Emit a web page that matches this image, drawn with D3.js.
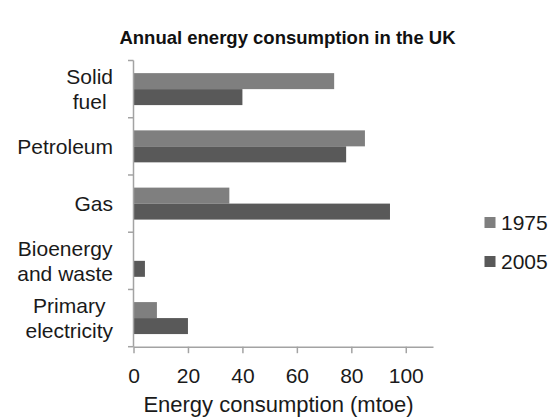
<!DOCTYPE html>
<html>
<head>
<meta charset="utf-8">
<script src="https://cdn.jsdelivr.net/npm/d3@7"></script>
<style>
  html, body { margin: 0; padding: 0; background: #fff; }
  svg { display: block; font-family: "Liberation Sans", Arial, Helvetica, sans-serif; }
</style>
</head>
<body>
<svg id="chart" width="557" height="420"></svg>
<script>
// Energy sources, one label line per array entry
const categories = [
  ["Solid", "fuel"],
  ["Petroleum"],
  ["Gas"],
  ["Bioenergy", "and waste"],
  ["Primary", "electricity"]
];
const years = ["1975", "2005"];
// Consumption in million tonnes of oil equivalent
const values1975 = [73.7, 85, 35.2, 0, 8.6];
const values2005 = [40, 78.1, 94.2, 4.2, 20];
const xTicks = [0, 20, 40, 60, 80, 100];
const colors = { "1975": "#7f7f7f", "2005": "#595959" };

const title = "Annual energy consumption in the UK";
const xTitle = "Energy consumption (mtoe)";

const svg = d3.select("#chart");
const keys = categories.map(c => c.join(" "));
const rows = keys.map((k, i) => ({ key: k, lines: categories[i], "1975": values1975[i], "2005": values2005[i] }));

const x = d3.scaleLinear().domain([0, 110]).range([133.5, 433]);
const y = d3.scaleBand().domain(keys).range([60.5, 346.7]).padding(0);
const yInner = d3.scaleBand().domain(years).range([0, y.bandwidth()]).paddingOuter(0.79).paddingInner(0);

// Title
svg.append("text")
  .attr("x", 287.5).attr("y", 44)
  .attr("text-anchor", "middle")
  .style("font-weight", "bold").style("font-size", "18.5px").attr("fill", "#111")
  .text(title);

// Bars
const groups = svg.append("g").selectAll("g").data(rows).join("g")
  .attr("transform", d => `translate(0,${y(d.key)})`);
groups.selectAll("rect")
  .data(d => years.map(yr => ({ yr, v: d[yr] })))
  .join("rect")
  .attr("x", x(0))
  .attr("y", d => yInner(d.yr))
  .attr("width", d => x(d.v) - x(0))
  .attr("height", yInner.bandwidth())
  .attr("fill", d => colors[d.yr]);

const axisColor = "#a3a3a3";

// X axis
const xAxis = svg.append("g")
  .attr("transform", `translate(0,${y.range()[1]})`)
  .call(d3.axisBottom(x).tickValues(xTicks).tickSize(6.5).tickSizeOuter(0).tickPadding(8));
xAxis.select(".domain").attr("stroke", axisColor).attr("stroke-width", 1.5);
xAxis.selectAll(".tick line").attr("stroke", axisColor).attr("stroke-width", 1.5);
xAxis.selectAll(".tick text")
  .attr("fill", "#1a1a1a")
  .style("font-size", "21px")
  .style("font-family", "'Liberation Sans', Arial, sans-serif")
  .attr("dy", null).attr("y", 36.5);

// Y axis: ticks at band boundaries
const yAxisG = svg.append("g");
yAxisG.append("line")
  .attr("x1", x(0)).attr("x2", x(0))
  .attr("y1", y.range()[0]).attr("y2", y.range()[1])
  .attr("stroke", axisColor).attr("stroke-width", 1.5);
const boundaries = keys.map(k => y(k)).concat([y.range()[1]]);
yAxisG.selectAll("line.tick").data(boundaries).join("line")
  .attr("class", "tick")
  .attr("x1", x(0) - 5.5).attr("x2", x(0))
  .attr("y1", d => d).attr("y2", d => d)
  .attr("stroke", axisColor).attr("stroke-width", 1.5);

// Category labels: lines centred on each other, block right-aligned
const labelRight = 113;
const lineH = 25;
rows.forEach(r => {
  const cy = y(r.key) + y.bandwidth() / 2;
  const t = svg.append("text")
    .style("font-size", "21px").attr("fill", "#1a1a1a")
    .attr("text-anchor", "middle");
  const n = r.lines.length;
  const spans = r.lines.map((ln, i) => t.append("tspan")
    .attr("y", cy + (i - (n - 1) / 2) * lineH + 7.5)
    .text(ln));
  const widths = spans.map(s => s.node().getComputedTextLength());
  const w = d3.max(widths);
  spans.forEach(s => s.attr("x", labelRight - w / 2));
});

// X axis title
svg.append("text")
  .attr("x", 278.5).attr("y", 412)
  .attr("text-anchor", "middle")
  .style("font-size", "22px").attr("fill", "#1a1a1a")
  .text(xTitle);

// Legend
const legend = svg.append("g").selectAll("g").data(years).join("g")
  .attr("transform", (d, i) => `translate(484.5,${222.5 + i * 39})`);
legend.append("rect")
  .attr("x", 0).attr("y", -5.5).attr("width", 11).attr("height", 11)
  .attr("fill", d => colors[d]);
legend.append("text")
  .attr("x", 16.5).attr("y", 7.5)
  .style("font-size", "21px").attr("fill", "#1a1a1a")
  .text(d => d);
</script>
</body>
</html>
